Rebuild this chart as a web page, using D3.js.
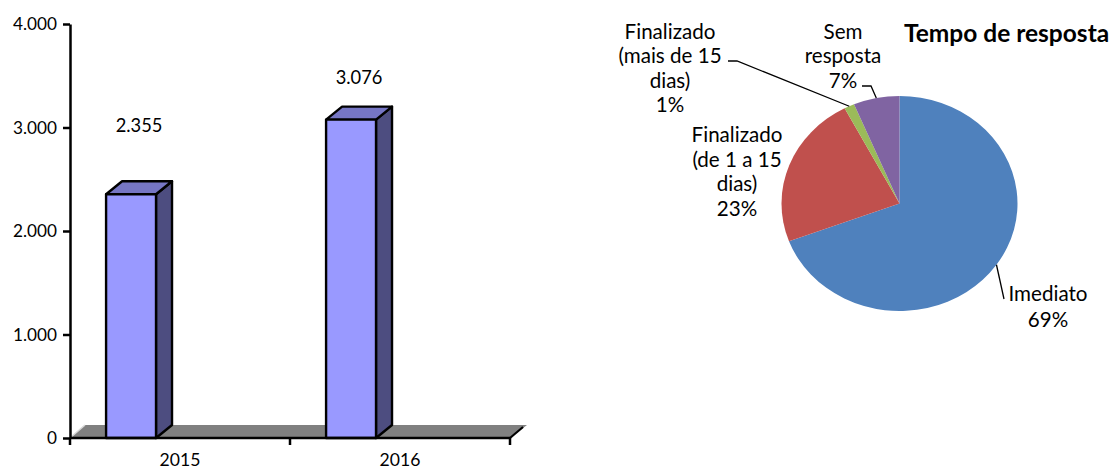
<!DOCTYPE html>
<html>
<head>
<meta charset="utf-8">
<script src="https://cdn.jsdelivr.net/npm/d3@7"></script>
<style>
  body { margin:0; background:#fff; }
  svg text { font-family: Lato, "Open Sans", sans-serif; fill:#000; }
</style>
</head>
<body>
<svg id="chart" width="1118" height="470"></svg>
<script>
// bar chart data
var years = ["2015", "2016"];
var totals = [2355, 3076];
var yTicks = [0, 1000, 2000, 3000, 4000];

// pie data (share of answers)
var pieNames = [["Imediato"], ["Finalizado", "(de 1 a 15", "dias)"], ["Finalizado", "(mais de 15", "dias)"], ["Sem", "resposta"]];
var pieShares = [69.3, 23.0, 1.4, 6.3];
var piePct = ["69%", "23%", "1%", "7%"];
var pieColors = ["#4F81BD", "#C0504D", "#9BBB59", "#8064A2"];
var pieTitle = "Tempo de resposta";

var svg = d3.select("#chart");
var pt = d3.formatLocale({decimal: ",", thousands: ".", grouping: [3]}).format(",");

// ---------- bars ----------
var depth = {dx: 16, dy: -13};
var y = d3.scaleLinear().domain([0, 4000]).range([438, 24]);
var x = d3.scaleBand().domain(years).range([70, 510]);
var bw = x.bandwidth();

var gb = svg.append("g");

// floor
gb.append("path")
  .attr("d", "M" + x.range()[0] + "," + y(0) + "l" + (depth.dx - 1) + "," + depth.dy +
             "H" + (x.range()[1] + depth.dx + 1) + "l" + (-depth.dx - 1) + "," + (-depth.dy) + "Z")
  .attr("fill", "#808080");
gb.append("line")
  .attr("x1", x.range()[0]).attr("y1", y(0))
  .attr("x2", x.range()[0] + depth.dx - 1).attr("y2", y(0) + depth.dy)
  .attr("stroke", "#d8d8d8").attr("stroke-width", 1.5);
gb.append("line")
  .attr("x1", x.range()[1]).attr("y1", y(0))
  .attr("x2", x.range()[1] + depth.dx - 3).attr("y2", y(0) + depth.dy + 2)
  .attr("stroke", "#000").attr("stroke-width", 2.2);

var bars = gb.selectAll(".bar").data(years).enter().append("g").attr("class", "bar");
bars.each(function(d, i) {
  var g = d3.select(this);
  var x0 = x(d) + bw * 0.164, x1 = x0 + bw * 0.227;
  var yt = y(totals[i]), yb = y(0);
  // side
  g.append("path")
    .attr("d", "M" + x1 + "," + yb + "L" + x1 + "," + yt + "l" + depth.dx + "," + depth.dy +
               "L" + (x1 + depth.dx) + "," + (yb + depth.dy) + "Z")
    .attr("fill", "#4D4D80");
  // top
  g.append("path")
    .attr("d", "M" + x0 + "," + yt + "l" + depth.dx + "," + depth.dy + "H" + (x1 + depth.dx) +
               "L" + x1 + "," + yt + "Z")
    .attr("fill", "#7676C4");
  // front
  g.append("rect")
    .attr("x", x0).attr("y", yt).attr("width", x1 - x0).attr("height", yb - yt)
    .attr("fill", "#9999FF");
  g.selectAll("path, rect")
    .attr("stroke", "#000").attr("stroke-width", 2.4).attr("stroke-linejoin", "round");
});

// value labels (Excel put them rather high above the boxes)
var labelLift = [62, 36];
gb.selectAll(".val").data(years).enter().append("text")
  .attr("class", "val")
  .attr("x", function(d) { return x(d) + bw * 0.164 + (bw * 0.227 + depth.dx) / 2; })
  .attr("y", function(d, i) { return y(totals[i]) - labelLift[i]; })
  .attr("text-anchor", "middle")
  .style("font-size", "18.3px")
  .text(function(d, i) { return pt(totals[i]); });

// y axis
var yAxis = gb.append("g")
  .attr("transform", "translate(70,0)")
  .call(d3.axisLeft(y).tickValues(yTicks).tickFormat(pt).tickSize(7).tickPadding(6).tickSizeOuter(0));
yAxis.select(".domain").attr("stroke", "#000").attr("stroke-width", 2.5);
yAxis.selectAll(".tick line").attr("stroke", "#000").attr("stroke-width", 2.5);
yAxis.selectAll("text").style("font-size", "17.2px").attr("font-family", null);

// x axis: ticks on the band borders, names in the middle
gb.append("line")
  .attr("x1", x.range()[0]).attr("x2", x.range()[1]).attr("y1", y(0)).attr("y2", y(0))
  .attr("stroke", "#000").attr("stroke-width", 2.5);
gb.selectAll(".xt").data([x.range()[0], x(years[1]), x.range()[1]]).enter().append("line")
  .attr("x1", function(d) { return d; }).attr("x2", function(d) { return d; })
  .attr("y1", y(0)).attr("y2", y(0) + 7)
  .attr("stroke", "#000").attr("stroke-width", 2.5);
gb.selectAll(".yr").data(years).enter().append("text")
  .attr("x", function(d) { return x(d) + bw / 2; })
  .attr("y", 466)
  .attr("text-anchor", "middle")
  .style("font-size", "17.6px")
  .text(function(d) { return d; });

// ---------- pie ----------
var cx = 899.5, cy = 203.5, rx = 118, squash = 107.5 / 118;
var pie = d3.pie().sort(null).value(function(d) { return d; });
var arcs = pie(pieShares);
var arc = d3.arc().innerRadius(0).outerRadius(rx);

var gp = svg.append("g");
gp.append("g")
  .attr("transform", "translate(" + cx + "," + cy + ") scale(1," + squash + ")")
  .selectAll("path").data(arcs).enter().append("path")
  .attr("d", arc)
  .attr("fill", function(d, i) { return pieColors[i]; });

function edge(a) {
  var m = (a.startAngle + a.endAngle) / 2;
  return [cx + rx * Math.sin(m), cy - rx * squash * Math.cos(m)];
}

// label layout: centre x, first baseline, line step, leader bends
var labelLayout = [
  {x: 1048, y: 301, step: 25.5, bends: [[1004, 299]]},
  {x: 737, y: 142, step: 24.5, bends: null},
  {x: 670, y: 38.5, step: 24.6, bends: [[737, 61], [728, 61]]},
  {x: 843, y: 38.5, step: 24.6, bends: [[871, 86], [862, 86]]}
];

arcs.forEach(function(a, i) {
  var L = labelLayout[i];
  var lines = pieNames[i].concat([piePct[i]]);
  var t = gp.append("text")
    .attr("text-anchor", "middle")
    .style("font-size", "20.6px");
  t.selectAll("tspan").data(lines).enter().append("tspan")
    .attr("x", L.x)
    .attr("y", function(d, k) { return L.y + k * L.step; })
    .text(function(d) { return d; });
  if (L.bends) {
    gp.append("path")
      .attr("d", d3.line()([edge(a)].concat(L.bends)))
      .attr("fill", "none").attr("stroke", "#000").attr("stroke-width", 1.3);
  }
});

gp.append("text")
  .attr("x", 904).attr("y", 42)
  .style("font-size", "24.5px").style("font-weight", "bold")
  .text(pieTitle);
</script>
</body>
</html>
